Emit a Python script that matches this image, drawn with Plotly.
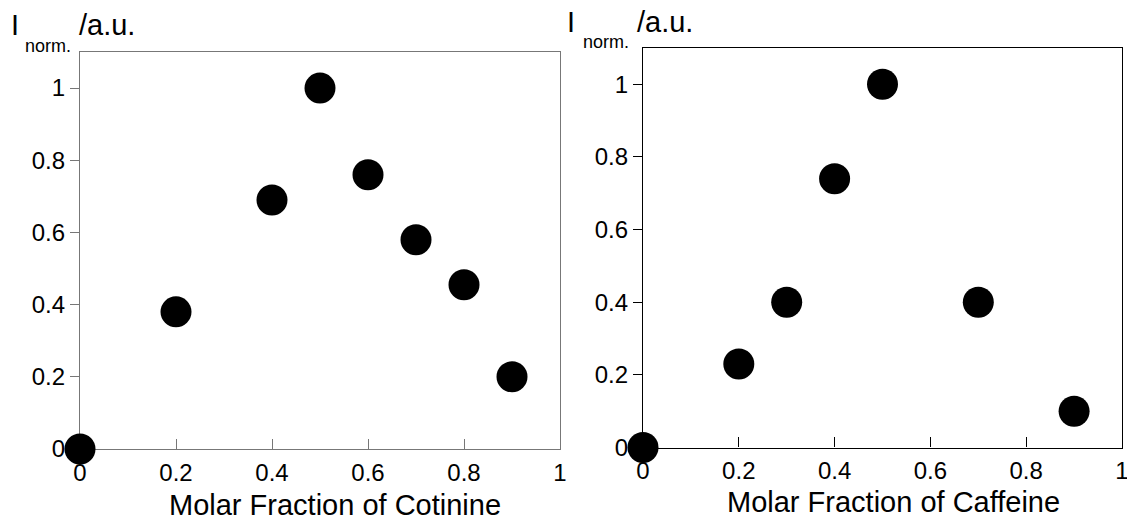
import plotly.graph_objects as go

# Data
cot_x = [0, 0.2, 0.4, 0.5, 0.6, 0.7, 0.8, 0.9]
cot_y = [0, 0.38, 0.69, 1.0, 0.76, 0.58, 0.455, 0.2]
caf_x = [0, 0.2, 0.3, 0.4, 0.5, 0.7, 0.9]
caf_y = [0, 0.23, 0.40, 0.74, 1.0, 0.40, 0.10]
x_ticks = [0, 0.2, 0.4, 0.6, 0.8, 1]
x_tick_text = ["0", "0.2", "0.4", "0.6", "0.8", "1"]
y_ticks = [0, 0.2, 0.4, 0.6, 0.8, 1]
y_tick_text = ["0", "0.2", "0.4", "0.6", "0.8", "1"]
x_titles = ["Molar Fraction of Cotinine", "Molar Fraction of Caffeine"]

W, H = 1127, 521
FONT = "Arial, Liberation Sans, sans-serif"

def fx(px):  # screen px -> paper x
    return px / W

def fy(py):  # screen px -> paper y
    return (H - py) / H

fig = go.Figure()
fig.add_trace(go.Scatter(x=cot_x, y=cot_y, mode="markers", xaxis="x", yaxis="y",
                         marker=dict(color="black", size=31, line=dict(width=0)),
                         cliponaxis=False, showlegend=False))
fig.add_trace(go.Scatter(x=caf_x, y=caf_y, mode="markers", xaxis="x2", yaxis="y2",
                         marker=dict(color="black", size=31, line=dict(width=0)),
                         cliponaxis=False, showlegend=False))

def xax(domain, anchor, color):
    return dict(domain=domain, anchor=anchor, range=[0, 1], tickvals=x_ticks, ticktext=x_tick_text,
                ticks="inside", ticklen=10, tickcolor=color, tickwidth=1,
                showline=True, linecolor=color, linewidth=1.3, mirror=True,
                showgrid=False, zeroline=False, layer="below traces", automargin=False,
                ticklabeloverflow="allow",
                tickfont=dict(family=FONT, size=24, color="black"), ticklabelstandoff=2)

def yax(domain, anchor, color):
    return dict(domain=domain, anchor=anchor, range=[0, 1.1], tickvals=y_ticks, ticktext=y_tick_text,
                ticks="outside", ticklen=9, tickcolor=color, tickwidth=1,
                showline=True, linecolor=color, linewidth=1.3, mirror=True,
                showgrid=False, zeroline=False, layer="below traces", automargin=False,
                ticklabeloverflow="allow",
                tickfont=dict(family=FONT, size=24, color="black"))

left_color = "#777777"
right_color = "black"
fig.update_layout(
    width=W, height=H, margin=dict(l=0, r=0, t=0, b=0, pad=0, autoexpand=False),
    paper_bgcolor="white", plot_bgcolor="white",
    font=dict(family=FONT, color="black"),
    xaxis=xax([fx(80), fx(560)], "y", left_color),
    yaxis=yax([fy(449), fy(52)], "x", left_color),
    xaxis2=xax([fx(643), fx(1122)], "y2", right_color),
    yaxis2=yax([fy(447.5), fy(48)], "x2", right_color),
)

def txt(text, px, py, size):
    fig.add_annotation(text=text, xref="paper", yref="paper", x=fx(px), y=fy(py),
                       xanchor="left", yanchor="middle", showarrow=False,
                       font=dict(family=FONT, size=size, color="black"))

# y-axis labels
txt("I", 9, 25, 29)
txt("norm.", 23, 46, 18)
txt("/a.u.", 77, 25, 29)
txt("I", 565, 22, 29)
txt("norm.", 581, 42, 18)
txt("/a.u.", 635, 22, 29)

# x-axis titles
fig.add_annotation(text=x_titles[0], xref="paper", yref="paper", x=fx(335), y=fy(505),
                   xanchor="center", yanchor="middle", showarrow=False,
                   font=dict(family=FONT, size=29, color="black"))
fig.add_annotation(text=x_titles[1], xref="paper", yref="paper", x=fx(893), y=fy(502),
                   xanchor="center", yanchor="middle", showarrow=False,
                   font=dict(family=FONT, size=29, color="black"))

fig.write_html("out.html", config={"displayModeBar": False},
               post_script="document.body.style.margin='0';document.body.style.overflow='hidden';")
